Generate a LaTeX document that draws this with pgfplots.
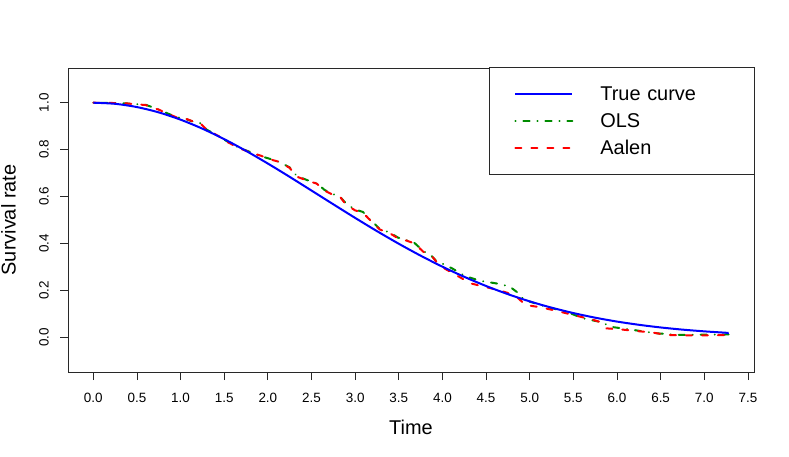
\documentclass[border=0pt]{standalone}
\usepackage{fontspec}
\setmainfont{Liberation Sans}
\usepackage{pgfplots}
\pgfplotsset{compat=1.18}
\definecolor{rblue}{RGB}{0,0,255}
\definecolor{rgreen}{RGB}{0,139,0}
\definecolor{rred}{RGB}{255,0,0}
\definecolor{rgray}{RGB}{40,40,40}
\begin{document}
\begin{tikzpicture}
\useasboundingbox (0,0) rectangle (789bp,457bp);
\begin{axis}[
  at={(68bp,85bp)}, anchor=south west,
  scale only axis, width=686bp, height=304bp,
  xmin=-0.29, xmax=7.57, ymin=-0.148, ymax=1.148,
  axis line style={line width=0.8bp, rgray},
  xtick={0,0.5,1,1.5,2,2.5,3,3.5,4,4.5,5,5.5,6,6.5,7,7.5},
  ytick={0,0.2,0.4,0.6,0.8,1.0},
  tick pos=left, tick align=outside, major tick length=8bp,
  tick style={line width=0.8bp, rgray},
  /pgf/number format/.cd, fixed, fixed zerofill, precision=1, assume math mode=true, /pgfplots/.cd,
  ticklabel style={font=\fontsize{13.5}{15}\selectfont},
  xticklabel style={anchor=base, inner sep=0pt, yshift=-22bp},
  yticklabel style={xshift=-11bp, rotate=90, anchor=south, inner sep=0pt},
  xlabel={Time},
  xlabel style={at={(axis description cs:0.5,-0.2072)}, anchor=base, inner sep=0pt, font=\fontsize{20}{24}\selectfont},
  ylabel={Survival rate},
  ylabel style={at={(axis description cs:-0.0758,0.5)}, rotate=0, anchor=south, inner sep=0pt, font=\fontsize{20}{24}\selectfont},
  legend style={at={(1,1)}, anchor=north east, outer sep=0pt, xshift=0.4bp, yshift=0.4bp, draw=rgray, line width=0.8bp,
    inner xsep=25bp, inner ysep=13bp, font=\fontsize{20}{24}\selectfont, row sep=0pt,
    nodes={inner sep=0pt, minimum height=27bp, text width=129bp, align=left},
    /tikz/every odd column/.append style={column sep=27bp}},
  legend cell align=left,
  legend image code/.code={\draw[#1] (0bp,0bp) -- (57bp,0bp);},
]
% OLS estimate
\addplot[forget plot, rgreen, line width=2bp, line cap=round, dash pattern=on 0.1bp off 7.9bp on 6.1bp off 7.9bp] coordinates {
(0.00,1.000) (0.20,0.999) (0.38,0.997) (0.60,0.991) (0.76,0.970) (0.84,0.956)
(0.95,0.939) (1.05,0.932) (1.13,0.921) (1.22,0.914) (1.30,0.885) (1.46,0.852)
(1.53,0.836) (1.67,0.808) (1.81,0.788) (1.92,0.772) (2.03,0.760) (2.14,0.746)
(2.25,0.724) (2.33,0.688) (2.45,0.670) (2.56,0.657) (2.65,0.628) (2.75,0.610)
(2.83,0.598) (2.90,0.568) (3.00,0.545) (3.09,0.534) (3.17,0.503) (3.28,0.462)
(3.40,0.446) (3.49,0.425) (3.59,0.414) (3.68,0.402) (3.78,0.368) (3.88,0.345)
(3.93,0.325) (4.01,0.312) (4.11,0.294) (4.26,0.261) (4.43,0.241) (4.66,0.227)
(4.77,0.216) (4.85,0.194) (4.93,0.162) (5.00,0.152) (5.19,0.130) (5.42,0.109)
(5.61,0.081) (5.80,0.066) (5.96,0.043) (6.19,0.031) (6.45,0.017) (6.72,0.010)
(7.28,0.012)
};
% Aalen estimate
\addplot[forget plot, rred, line width=2bp, line cap=round, dash pattern=on 6bp off 10bp] coordinates {
(0.00,1.000) (0.20,0.999) (0.38,0.997) (0.60,0.990) (0.76,0.969) (0.84,0.955)
(0.95,0.938) (1.05,0.933) (1.13,0.922) (1.22,0.915) (1.30,0.884) (1.46,0.853)
(1.53,0.834) (1.67,0.806) (1.81,0.787) (1.92,0.774) (2.03,0.758) (2.14,0.747)
(2.25,0.722) (2.33,0.685) (2.45,0.668) (2.56,0.655) (2.65,0.625) (2.75,0.607)
(2.83,0.597) (2.90,0.564) (3.00,0.541) (3.09,0.531) (3.17,0.500) (3.28,0.460)
(3.40,0.443) (3.49,0.422) (3.59,0.412) (3.68,0.400) (3.78,0.365) (3.89,0.341)
(3.93,0.322) (4.03,0.292) (4.12,0.273) (4.20,0.256) (4.32,0.230) (4.51,0.213)
(4.66,0.199) (4.74,0.190) (4.87,0.166) (4.95,0.138) (5.12,0.128) (5.27,0.116)
(5.50,0.095) (5.73,0.074) (5.80,0.066) (5.88,0.038) (6.03,0.034) (6.19,0.028)
(6.41,0.020) (6.57,0.010) (6.87,0.008) (7.28,0.009)
};
% True curve
\addplot[forget plot, rblue, line width=2bp, smooth] coordinates {
(0.00,1.0000) (0.25,0.9953) (0.50,0.9814) (0.75,0.9587) (1.00,0.9277)
(1.25,0.8893) (1.50,0.8446) (1.75,0.7946) (2.00,0.7406) (2.25,0.6839)
(2.50,0.6255) (2.75,0.5669) (3.00,0.5089) (3.25,0.4526) (3.50,0.3987)
(3.75,0.3480) (4.00,0.3009) (4.25,0.2578) (4.50,0.2187) (4.75,0.1839)
(5.00,0.1531) (5.25,0.1263) (5.50,0.1033) (5.75,0.0836) (6.00,0.0670)
(6.25,0.0533) (6.50,0.0419) (6.75,0.0327) (7.00,0.0253) (7.25,0.0193)
(7.28,0.0187)
};
\addlegendimage{rblue, line width=2bp}
\addlegendentry{True curve}
\addlegendimage{rgreen, line width=2bp, line cap=round, dash pattern=on 0.1bp off 7.9bp on 6.1bp off 7.9bp}
\addlegendentry{OLS}
\addlegendimage{rred, line width=2bp, line cap=round, dash pattern=on 6bp off 10bp}
\addlegendentry{Aalen}
\end{axis}
\end{tikzpicture}
\end{document}
